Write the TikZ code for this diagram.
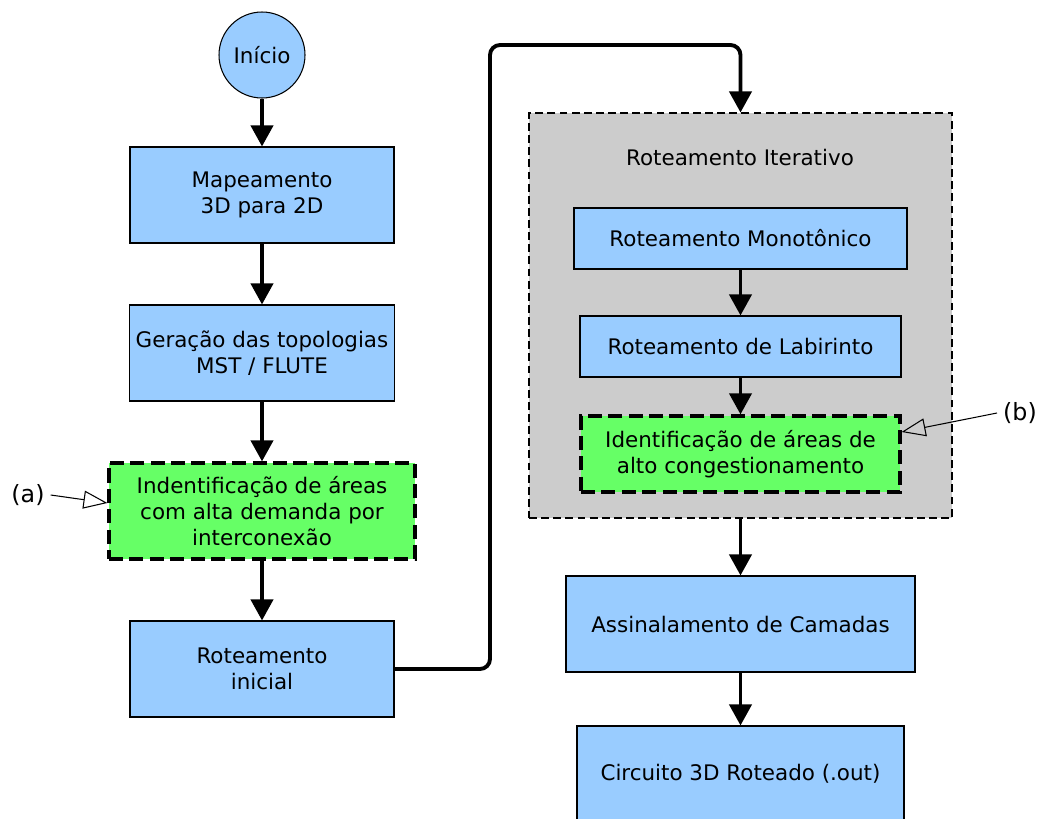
\documentclass[tikz,border=0pt]{standalone}
\usepackage{fontspec}
\setmainfont{DejaVu Sans}
\usetikzlibrary{arrows.meta}
\definecolor{azul}{HTML}{99CCFF}
\definecolor{verde}{HTML}{66FF66}
\definecolor{cinza}{HTML}{CCCCCC}

\tikzset{
  caixa/.style={rectangle, draw, fill=azul, line width=0.6pt, align=center, minimum width=5.28cm, minimum height=1.92cm},
  destaque/.style={rectangle, draw, fill=verde, line width=1.8pt, dash pattern=on 8pt off 3.6pt, align=center, minimum height=1.92cm},
  fluxo/.style={line width=2.2pt, -{Triangle[length=0.42cm, width=0.44cm]}},
  indica/.style={line width=0.6pt, -{Triangle[open, length=0.48cm, width=0.36cm, line width=0.6pt]}}
}

\begin{document}
\begin{tikzpicture}[font=\fontsize{12.2}{14.6}\selectfont]
\useasboundingbox (0,0) rectangle (20.84,-16.36);

% coluna da esquerda
\node[circle, draw, fill=azul, line width=0.6pt, minimum size=1.72cm](inicio) at (5.24,-1.10){Início};
\node[caixa](mapa) at (5.24,-3.90){Mapeamento\\3D para 2D};
\node[caixa](geracao) at (5.24,-7.06){Geração das topologias\\MST / FLUTE};
\node[destaque, minimum width=6.12cm](identA) at (5.24,-10.22){Indentificação de áreas\\com alta demanda por\\interconexão};
\node[caixa](rotIni) at (5.24,-13.38){Roteamento\\inicial};

% roteamento iterativo
\node[rectangle, draw, fill=cinza, dash pattern=on 4.5pt off 2.4pt, line width=0.6pt, minimum width=8.46cm, minimum height=8.10cm](iterativo) at (14.81,-6.31){};
\node(titulo) at (14.80,-3.16){Roteamento Iterativo};
\node[caixa, minimum width=6.66cm, minimum height=1.22cm](mono) at (14.81,-4.77){Roteamento Monotônico};
\node[caixa, minimum width=6.42cm, minimum height=1.22cm](labir) at (14.81,-6.93){Roteamento de Labirinto};
\node[destaque, minimum width=6.38cm, minimum height=1.52cm](identB) at (14.81,-9.08){Identificação de áreas de\\alto congestionamento};

\node[caixa, minimum width=6.98cm](camadas) at (14.81,-12.48){Assinalamento de Camadas};
\node[caixa, minimum width=6.54cm](circuito) at (14.81,-15.48){Circuito 3D Roteado (.out)};

% rotulos
\node(la) at (0.56,-9.90){\fontsize{13.5}{16}\selectfont(a)};
\node(lb) at (20.40,-8.26){\fontsize{13.5}{16}\selectfont(b)};

\draw[fluxo] (inicio) -- (mapa);
\draw[fluxo] (mapa) -- (geracao);
\draw[fluxo] (geracao) -- (identA);
\draw[fluxo] (identA) -- (rotIni);
\draw[fluxo, rounded corners=0.2cm] (rotIni.east) -| (9.80,-0.90) -| (iterativo.north);
\draw[fluxo] (mono) -- (labir);
\draw[fluxo] (labir) -- (identB);
\draw[fluxo] (iterativo.south -| camadas.north) -- (camadas);
\draw[fluxo] (camadas) -- (circuito);

\draw[indica] (la.east) -- ([yshift=0.16cm]identA.west);
\draw[indica] (lb.west) -- ([yshift=0.44cm]identB.east);

\end{tikzpicture}
\end{document}
